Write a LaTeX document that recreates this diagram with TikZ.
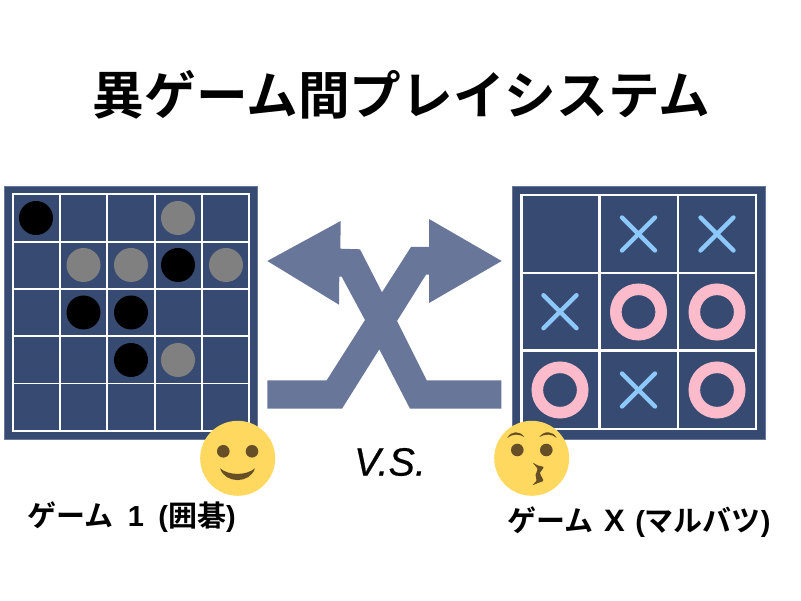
\documentclass[tikz,border=0pt]{standalone}
\usepackage{fontspec}
\setmainfont{Liberation Sans}
\newfontfamily\cjk{Noto Sans CJK JP}[BoldFont={Noto Sans CJK JP Bold}]
\newfontfamily\vsfont{Liberation Sans}[ItalicFeatures={FakeBold=0.5}]
\definecolor{boardbg}{HTML}{374B72}
\definecolor{boardedge}{HTML}{68769A}
\definecolor{arrowfill}{HTML}{68769A}
\definecolor{blackstone}{HTML}{000000}
\definecolor{graystone}{HTML}{808080}
\definecolor{xblue}{HTML}{8CC8FA}
\definecolor{opink}{HTML}{FBBBCA}
\definecolor{faceyellow}{HTML}{FFD95F}
\definecolor{facebrown}{HTML}{664E27}
\newcommand{\lat}[1]{{\normalfont\bfseries #1}}
\tikzset{
  x=1pt,y=-1pt,
  board/.style={fill=boardbg,draw=boardedge,line width=0.5},
  gridline/.style={draw=white,line width=#1},
  bstone/.style={fill=blackstone,draw=none},
  gstone/.style={fill=graystone,draw=none},
  xmark/.style={draw=xblue,line width=4.4,line cap=round},
  omark/.style={draw=opink,line width=11.6},
  face/.style={fill=faceyellow,draw=none},
  feature/.style={fill=facebrown,draw=none},
  label/.style={inner sep=0,anchor=center,font=\cjk\bfseries\fontsize{29}{29}\selectfont},
}
\begin{document}
\begin{tikzpicture}
\useasboundingbox (0,0) rectangle (801,601);
\fill[white] (0,0) rectangle (801,601);
% title
\node[label,font=\cjk\bfseries\fontsize{51.7}{52}\selectfont] (title) at (401.5,94.5) {異ゲーム間プレイシステム};
% left board
\draw[board] (4,186) rectangle (257.7,439.7);
\foreach \v in {12.7,60,107.3,154.7,202,249}{
  \draw[gridline=1.9] (\v,193.4) -- (\v,431.6);}
\foreach \v in {194.3,241.6,289,336.3,383.5,430.7}{
  \draw[gridline=1.9] (11.8,\v) -- (249.9,\v);}
\foreach \cx/\cy in {36/218,178/265,83.5/312.5,131/312.5,131/360}{
  \fill[bstone] (\cx,\cy) circle[radius=17];}
\foreach \cx/\cy in {178/218,83.5/265,131/265,226/265,178/360}{
  \fill[gstone] (\cx,\cy) circle[radius=17];}
% right board
\draw[board] (512,186) rectangle (765.7,439.7);
\foreach \v in {521.3,599.5,678,755.7}{
  \draw[gridline=2.4] (\v,193.8) -- (\v,430.2);}
\foreach \v in {195,272.8,350.7,429}{
  \draw[gridline=2.4] (520.1,\v) -- (756.9,\v);}
\foreach \cx/\cy in {638.5/234,717/234,560/311.7,638.5/390}{
  \draw[xmark] (\cx-16.5,\cy-16.5) -- (\cx+16.5,\cy+16.5);
  \draw[xmark] (\cx-16.5,\cy+16.5) -- (\cx+16.5,\cy-16.5);}
\foreach \cx/\cy in {638.5/312,717/312,560/390,717/390}{
  \draw[omark] (\cx,\cy) circle[radius=22.7];}
% crossed arrows
\fill[arrowfill] (267.3,261) -- (340.7,221) -- (340.3,248.7) -- (360,249.3)
  -- (382,292.3) -- (411,247) -- (429,247) -- (429,219) -- (501.7,261) -- (429,303)
  -- (429,274.7) -- (426,274.7) -- (397,321) -- (426.7,380.3) -- (501.3,380.3)
  -- (501.3,408.7) -- (410,408.7) -- (379.3,349.3) -- (342,408.7) -- (267.3,408.7)
  -- (267.3,380.3) -- (326.7,380.3) -- (365,320) -- (341.7,276.7) -- (339.3,276.7)
  -- (339,304.7) -- cycle;
% V.S.
\node[inner sep=0,font=\vsfont\itshape\fontsize{39.5}{40}\selectfont] (vs) at (390,462) {V.S.};
% left face
\fill[face] (237.7,458.3) circle[radius=37.5];
\fill[feature] (223.3,451.3) circle[radius=6.3];
\fill[feature] (252,451.3) circle[radius=6.3];
\fill[feature] (220,468.3) .. controls (229,475.8) and (246,475.8) .. (255,468.3)
  .. controls (250,484) and (225,484) .. (220,468.3) -- cycle;
% right face
\fill[face] (531.7,458.3) circle[radius=37.5];
\fill[feature] (517.3,450) circle[radius=6.3];
\fill[feature] (546.3,450) circle[radius=6.3];
\fill[feature] (507.3,438) .. controls (511,430.5) and (520,430.5) .. (524.3,437)
  .. controls (519,433.7) and (512,433.7) .. (507.3,438) -- cycle;
\fill[feature] (556.7,438) .. controls (553,430.5) and (544,430.5) .. (539.3,437)
  .. controls (545,433.7) and (552,433.7) .. (556.7,438) -- cycle;
\fill[feature] plot[smooth cycle,tension=0.45] coordinates {(533,463) (538,465.5) (543.5,467.3) (540,473) (542.5,478.3) (543.2,481) (538,483) (532.7,485) (536.5,480.5) (535.5,475) (537.5,469)};
% labels
\node[label] (l1) at (131.5,517) {ゲーム\hspace{14.5pt}\lat{1}\hspace{14.5pt}\lat{(}囲碁\lat{)}};
\node[label] (l2) at (639,522) {ゲーム\hspace{10.5pt}\lat{\fontsize{31}{31}\selectfont X}\hspace{10.5pt}\lat{(}マルバツ\lat{)}};
\end{tikzpicture}
\end{document}
